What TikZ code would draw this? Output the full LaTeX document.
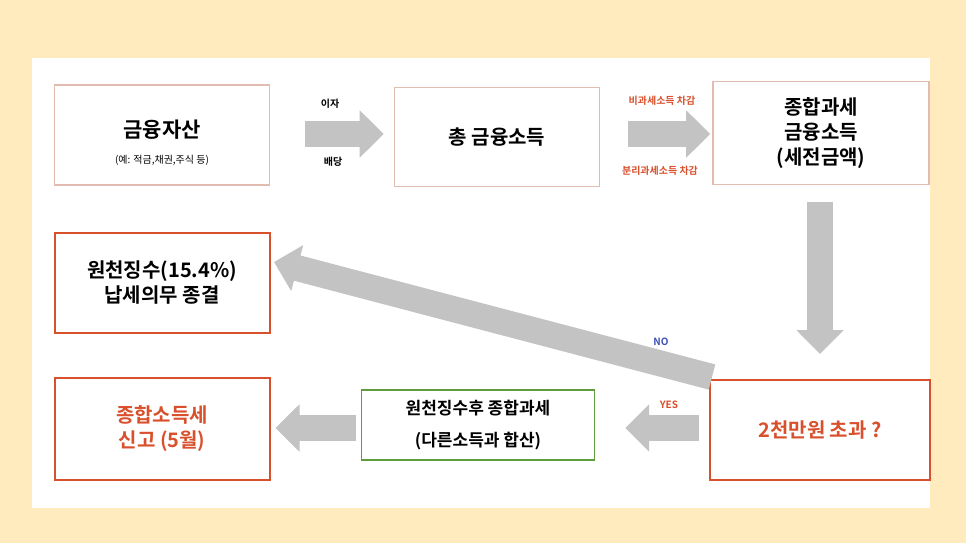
\documentclass[tikz,border=0pt]{standalone}
\usepackage{fontspec}
\setmainfont{Noto Sans CJK KR}[BoldFont=Noto Sans CJK KR Bold]
\usetikzlibrary{arrows.meta}
\definecolor{cream}{HTML}{FFEBBE}
\definecolor{softline}{HTML}{E2BCB0}
\definecolor{redline}{HTML}{D9502C}
\definecolor{greenline}{HTML}{5E9C3E}
\definecolor{fatgray}{HTML}{C3C3C3}
\definecolor{nocolor}{HTML}{3F51B5}
\tikzstyle{stepbox} = [draw=softline, line width=1.6pt, fill=white, align=center, font=\bfseries\fontsize{20}{25}\selectfont]
\tikzstyle{redbox} = [stepbox, draw=redline, line width=2pt]
\tikzstyle{fat} = [draw=fatgray, line width=26pt, -{Triangle[length=24pt,width=46pt]}]
\tikzstyle{tag} = [font=\bfseries\fontsize{10}{12}\selectfont]

\begin{document}
\begin{tikzpicture}[x=1pt, y=-1pt]
        \fill[cream] (0,0) rectangle (966,543);
        \fill[white] (32,58) rectangle (930,508);
        \useasboundingbox (0,0) rectangle (966,543);

        \node [stepbox, minimum width=215pt, minimum height=100pt] (asset) at (162,135) {};
        \node [font=\bfseries\fontsize{21}{25}\selectfont] (assettitle) at (162,130) {금융자산};
        \node [font=\fontsize{10}{12}\selectfont] (assetnote) at (162,160) {(예: 적금,채권,주식 등)};
        \node [stepbox, minimum width=205pt, minimum height=99pt] (total) at (497,137) {총 금융소득};
        \node [stepbox, minimum width=216pt, minimum height=103pt] (comp) at (821,133) {종합과세\\금융소득\\(세전금액)};
        \node [redbox, minimum width=215pt, minimum height=100pt] (withhold) at (162,283) {원천징수(15.4\%)\\납세의무 종결};
        \node [redbox, minimum width=215pt, minimum height=102pt, text=redline] (report) at (162,429) {종합소득세\\신고 (5월)};
        \node [stepbox, draw=greenline, line width=1.4pt, minimum width=233pt, minimum height=70pt, font=\bfseries\fontsize{17}{32}\selectfont] (merge) at (478,425) {원천징수후 종합과세\\(다른소득과 합산)};
        \node [redbox, minimum width=220pt, minimum height=100pt, text=redline] (judge) at (820,430) {2천만원 초과 ?};

        \coordinate (notail) at (712,377);
        \coordinate (nohead) at (274,262);

        \draw [fat, shorten <=35pt, shorten >=10pt] (asset.east |- 0,134) -- (total.west |- 0,134);
        \draw [fat, shorten <=28pt, shorten >=2pt] (total.east |- 0,134) -- (comp.west |- 0,134);
        \draw [fat, shorten <=17pt, shorten >=25pt] (comp.south -| 820,0) -- (judge.north -| 820,0);
        \draw [fat] (notail) -- (nohead);
        \draw [fat, shorten <=10pt, shorten >=30pt] (judge.west |- 0,428) -- (merge.east |- 0,428);
        \draw [fat, shorten <=5pt, shorten >=5pt] (merge.west |- 0,428) -- (report.east |- 0,428);

        \node [tag] (interest) at (330,104) {이자};
        \node [tag] (dividend) at (333,162) {배당};
        \node [tag, text=redline] (nontax) at (662,101) {비과세소득 차감};
        \node [tag, text=redline] (septax) at (660,171) {분리과세소득 차감};
        \node [tag, text=nocolor] (no) at (661,342) {NO};
        \node [tag, text=redline] (yes) at (669,405) {YES};
\end{tikzpicture}
\end{document}
